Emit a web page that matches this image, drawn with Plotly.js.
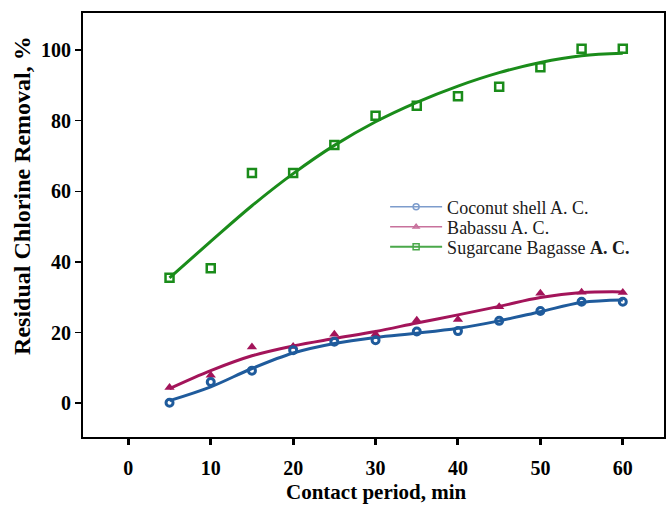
<!DOCTYPE html>
<html>
<head>
<meta charset="utf-8">
<script src="https://cdn.plot.ly/plotly-3.0.1.min.js"></script>
<style>html,body{margin:0;padding:0;background:#fff;}#chart{width:667px;height:506px;}</style>
</head>
<body>
<div id="chart"></div>
<script>
// Contact period (min)
const contactTime = [5, 10, 15, 20, 25, 30, 35, 40, 45, 50, 55, 60];

// Measured residual chlorine removal (%)
const coconutData   = [0.1, 6.0, 9.2, 15.0, 17.4, 17.8, 20.3, 20.4, 23.3, 26.1, 28.7, 28.7];
const babassuData   = [4.4, 7.9, 15.9, 16.0, 19.5, 19.5, 23.5, 23.7, 27.3, 31.1, 31.4, 31.3];
const sugarcaneData = [35.5, 38.2, 65.2, 65.2, 73.1, 81.4, 84.2, 86.9, 89.6, 95.1, 100.4, 100.4];

// Fitted trend curves (%)
const coconutFit   = [0.7, 4.6, 9.8, 14.2, 16.9, 18.6, 19.8, 21.2, 23.3, 25.9, 28.5, 29.2];
const babassuFit   = [4.1, 9.2, 13.4, 16.2, 18.3, 20.3, 22.7, 25.0, 27.4, 29.9, 31.3, 31.5];
const sugarcaneFit = [35.5, 45.8, 55.9, 65.0, 73.0, 79.7, 85.2, 89.8, 93.6, 96.5, 98.4, 99.1];

const seriesNames = ['Coconut shell A. C.', 'Babassu A. C.', 'Sugarcane Bagasse <b>A. C.</b>'];
const xTicks = [0, 10, 20, 30, 40, 50, 60];
const yTicks = [0, 20, 40, 60, 80, 100];

const cBlue = '#1f5b9c', cRed = '#a3145a', cGreen = '#1a8c1a';
const lBlue = '#7d9ccc', lRed = '#c8719c', lGreen = '#4aa84a';

const traces = [
  {x: contactTime, y: sugarcaneFit, mode: 'lines', line: {color: cGreen, width: 3, shape: 'spline'}, showlegend: false, hoverinfo: 'skip'},
  {x: contactTime, y: babassuFit, mode: 'lines', line: {color: cRed, width: 3, shape: 'spline'}, showlegend: false, hoverinfo: 'skip'},
  {x: contactTime, y: coconutFit, mode: 'lines', line: {color: cBlue, width: 3, shape: 'spline'}, showlegend: false, hoverinfo: 'skip'},
  {x: contactTime, y: sugarcaneData, mode: 'markers', marker: {symbol: 'square-open', size: 8, color: cGreen, line: {width: 2.5, color: cGreen}}, showlegend: false},
  {x: contactTime, y: babassuData, mode: 'markers', marker: {symbol: 'triangle-up', size: 9, color: cRed}, showlegend: false},
  {x: contactTime, y: coconutData, mode: 'markers', marker: {symbol: 'circle-open', size: 7, color: cBlue, line: {width: 3, color: cBlue}}, showlegend: false},
  // legend entries
  {x: [null], y: [null], name: seriesNames[0], legend: 'legend', mode: 'lines+markers', line: {color: lBlue, width: 1.5}, marker: {symbol: 'circle-open', size: 6, color: lBlue, line: {width: 1.5}}},
  {x: [null], y: [null], name: seriesNames[1], legend: 'legend2', mode: 'lines+markers', line: {color: lRed, width: 1.5}, marker: {symbol: 'triangle-up-open', size: 5, color: lRed, line: {width: 1.5}}},
  {x: [null], y: [null], name: seriesNames[2], legend: 'legend3', mode: 'lines+markers', line: {color: lGreen, width: 2}, marker: {symbol: 'square-open', size: 6, color: lGreen, line: {width: 1.5}}}
];

const serif = '"Liberation Serif", "DejaVu Serif", serif';
const legFont = {family: serif, size: 18, color: '#1a1a1a'};
function leg(y) {
  return {x: 0.52, y: y, xanchor: 'left', yanchor: 'middle', bgcolor: 'rgba(0,0,0,0)',
          font: legFont, itemwidth: 52, borderwidth: 0};
}

const layout = {
  width: 667, height: 506,
  margin: {l: 83, r: 3, t: 13, b: 69, autoexpand: false},
  paper_bgcolor: '#fff', plot_bgcolor: '#fff',
  showlegend: true,
  legend: leg(0.5425),
  legend2: leg(0.4953),
  legend3: leg(0.448),
  xaxis: {
    range: [-5.5, 65], tickvals: xTicks, ticktext: xTicks.map(String),
    showgrid: false, zeroline: false, showline: true, mirror: true, linecolor: '#000', linewidth: 2,
    ticks: 'outside', ticklen: 6, tickwidth: 3, tickcolor: '#000', ticklabelstandoff: 6,
    tickfont: {family: serif, size: 20, color: '#000', weight: 'bold'}
  },
  yaxis: {
    range: [-9.6, 110.5], tickvals: yTicks, ticktext: yTicks.map(String),
    showgrid: false, zeroline: false, showline: true, mirror: true, linecolor: '#000', linewidth: 2,
    ticks: 'outside', ticklen: 6, tickwidth: 1.5, tickcolor: '#000', ticklabelstandoff: 0,
    tickfont: {family: serif, size: 20, color: '#000', weight: 'bold'}
  },
  annotations: [
    {text: 'Contact period, min', xref: 'paper', yref: 'paper', x: 0.505, y: -0.13, xanchor: 'center', yanchor: 'middle',
     showarrow: false, font: {family: serif, size: 21, color: '#000', weight: 'bold'}},
    {text: 'Residual Chlorine Removal, %', xref: 'paper', yref: 'paper', x: -0.105, y: 0.571, xanchor: 'center', yanchor: 'middle',
     textangle: -90, showarrow: false, font: {family: serif, size: 24, color: '#000', weight: 'bold'}}
  ]
};

Plotly.newPlot('chart', traces, layout, {displayModeBar: false, staticPlot: true});
</script>
</body>
</html>
